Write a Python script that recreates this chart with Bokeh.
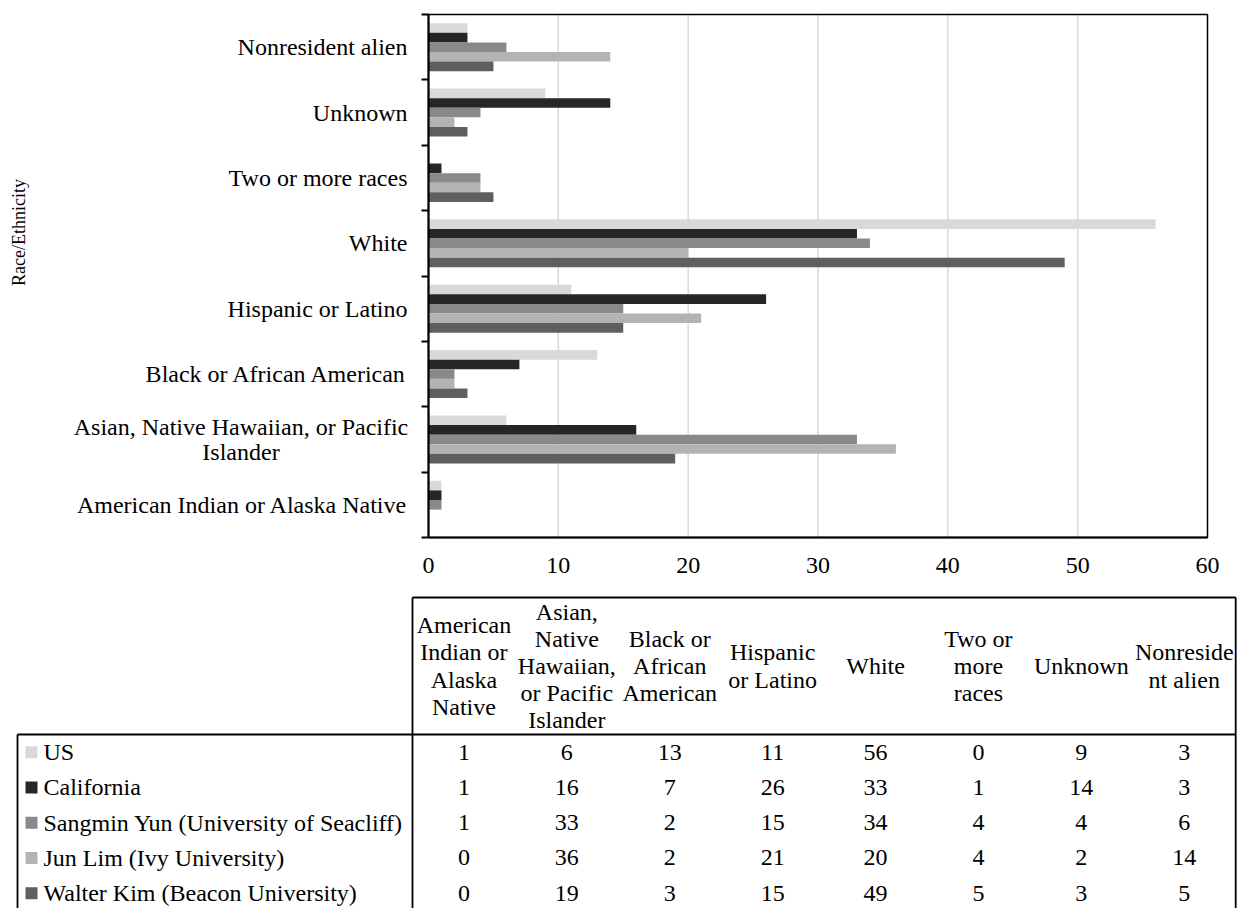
import numpy as np
from bokeh.plotting import figure
from bokeh.models import Range1d, FixedTicker, ColumnDataSource
from bokeh.core.properties import value
from bokeh.embed import file_html
from bokeh.resources import INLINE

# ---- data -------------------------------------------------------------
categories = [
    "American Indian or Alaska Native",
    "Asian, Native Hawaiian, or Pacific Islander",
    "Black or African American",
    "Hispanic or Latino",
    "White",
    "Two or more races",
    "Unknown",
    "Nonresident alien",
]
# category labels as wrapped beside the bars
axis_labels = [
    "American Indian or Alaska Native",
    "Asian, Native Hawaiian, or Pacific\nIslander",
    "Black or African American",
    "Hispanic or Latino",
    "White",
    "Two or more races",
    "Unknown",
    "Nonresident alien",
]
# category labels as wrapped in the data table header
table_headers = [
    "American\nIndian or\nAlaska\nNative",
    "Asian,\nNative\nHawaiian,\nor Pacific\nIslander",
    "Black or\nAfrican\nAmerican",
    "Hispanic\nor Latino",
    "White",
    "Two or\nmore\nraces",
    "Unknown",
    "Nonreside\nnt alien",
]
series_names = [
    "US",
    "California",
    "Sangmin Yun (University of Seacliff)",
    "Jun Lim (Ivy University)",
    "Walter Kim (Beacon University)",
]
series_colors = ["#d9d9d9", "#262626", "#898989", "#b3b3b3", "#5f5f5f"]

us = [1, 6, 13, 11, 56, 0, 9, 3]
california = [1, 16, 7, 26, 33, 1, 14, 3]
sangmin_yun = [1, 33, 2, 15, 34, 4, 4, 6]
jun_lim = [0, 36, 2, 21, 20, 4, 2, 14]
walter_kim = [0, 19, 3, 15, 49, 5, 3, 5]
series_values = [us, california, sangmin_yun, jun_lim, walter_kim]

x_ticks = [0, 10, 20, 30, 40, 50, 60]
y_title = "Race/Ethnicity"

FONT = "Liberation Serif"
LABEL_SIZE = "24px"

# ---- page geometry (px) ----------------------------------------------
W, H = 1238, 908
PLOT_L, PLOT_R, PLOT_T, PLOT_B = 428, 1207, 14, 537
X_MAX = 60

n_cat = len(categories)
n_ser = len(series_names)

px_x = (PLOT_R - PLOT_L) / X_MAX
px_c = (PLOT_B - PLOT_T) / n_cat

# one canvas-wide frame; the chart area sits inside it
p = figure(
    width=W, height=H, title=None,
    x_range=Range1d(-PLOT_L / px_x, X_MAX + (W - PLOT_R) / px_x),
    y_range=Range1d(-0.5 - (H - PLOT_B) / px_c, n_cat - 0.5 + PLOT_T / px_c),
    output_backend="svg", toolbar_location=None, min_border=0,
)
p.background_fill_color = "white"
p.border_fill_color = "white"
p.outline_line_color = None
p.grid.visible = False

# vertical gridlines
grid_x = x_ticks[1:-1]
p.segment(x0=grid_x, x1=grid_x, y0=[-0.5] * len(grid_x), y1=[n_cat - 0.5] * len(grid_x),
          line_color="#d9d9d9", line_width=1.5)

# bars: US on top of each group, Walter Kim at the bottom
bar_h = 0.147
cat_idx = np.arange(n_cat)
for k, (name, vals, color) in enumerate(zip(series_names, series_values, series_colors)):
    offset = (n_ser - 1) / 2 * bar_h - k * bar_h
    src = ColumnDataSource(dict(y=cat_idx + offset, right=vals))
    p.hbar(y="y", left=0, right="right", height=bar_h, source=src,
           fill_color=color, line_color=None)

# plot-area border
p.quad(left=[0], right=[X_MAX], bottom=[-0.5], top=[n_cat - 0.5],
       fill_color=None, line_color="black", line_width=1.5)

# value axis along the bottom of the chart area
xa = p.xaxis[0]
xa.fixed_location = -0.5
xa.bounds = (0, X_MAX)
xa.ticker = FixedTicker(ticks=x_ticks)
xa.axis_line_color = "black"
xa.axis_line_width = 2
xa.major_tick_out = 0
xa.major_tick_in = 0
xa.minor_tick_line_color = None
xa.major_label_text_font = FONT
xa.major_label_text_font_size = LABEL_SIZE
xa.major_label_text_color = "black"
xa.major_label_standoff = 20

# category axis: only (minor) ticks at the group boundaries
boundaries = [i - 0.5 for i in range(n_cat + 1)]
ya = p.yaxis[0]
ya.fixed_location = 0
ya.bounds = (-0.5, n_cat - 0.5)
ya.ticker = FixedTicker(ticks=[], minor_ticks=boundaries)
ya.axis_line_color = "black"
ya.axis_line_width = 2
ya.major_tick_line_color = None
ya.minor_tick_line_color = "black"
ya.minor_tick_line_width = 2
ya.minor_tick_out = 7
ya.minor_tick_in = 0

# category labels at group centres (the wrapped one is centred on its block)
label_align = ["center" if "\n" in s else "right" for s in axis_labels]
label_xoff = [-187.5 if "\n" in s else -21 for s in axis_labels]
p.text(x=[0] * n_cat, y=list(cat_idx), text=axis_labels,
       x_offset=label_xoff, text_align=label_align, text_baseline="middle",
       text_line_height=0.98,
       text_font=value(FONT), text_font_size=LABEL_SIZE, text_color="black")

p.text(x=[0], y=[4.165], text=[y_title], x_offset=-410, angle=np.pi / 2,
       text_align="center", text_baseline="middle",
       text_font=value(FONT), text_font_size="18px", text_color="black")

# ---- data table below the chart --------------------------------------
COL_W = 102.9     # column width
ROW_H = 35.25     # data row height
HEADER_H = 137.0  # header row height
TABLE_LEFT = 412  # left edge of the first value column
LEGEND_LEFT = 17
DIVIDER_Y = 734   # header / body divider

tx0 = -0.5 - TABLE_LEFT / COL_W
ty_top = -0.5 - DIVIDER_Y / ROW_H
p.extra_x_ranges["table_x"] = Range1d(tx0, tx0 + W / COL_W)
p.extra_y_ranges["table_y"] = Range1d(ty_top + H / ROW_H, ty_top)
tbl = dict(x_range_name="table_x", y_range_name="table_y")

header_y = -0.5 - HEADER_H / ROW_H / 2
header_top = -0.5 - HEADER_H / ROW_H
legend_left = -0.5 - (TABLE_LEFT - LEGEND_LEFT) / COL_W
swatch_x = -0.5 - (TABLE_LEFT - 31) / COL_W
name_x = -0.5 - (TABLE_LEFT - 43) / COL_W
right = n_cat - 0.5
bottom = n_ser - 0.5

p.multi_line(
    xs=[[-0.5, right], [legend_left, right], [legend_left, right],
        [-0.5, -0.5], [right, right], [legend_left, legend_left]],
    ys=[[header_top, header_top], [-0.5, -0.5], [bottom, bottom],
        [header_top, bottom], [header_top, bottom], [-0.5, bottom]],
    line_color="black", line_width=1.8, **tbl,
)

p.text(x=list(range(n_cat)), y=[header_y] * n_cat, text=table_headers,
       text_align="center", text_baseline="middle", text_line_height=1.04,
       text_font=value(FONT), text_font_size=LABEL_SIZE, text_color="black", **tbl)

cell_x, cell_y, cell_txt = [], [], []
for r, vals in enumerate(series_values):
    for c, v in enumerate(vals):
        cell_x.append(c)
        cell_y.append(r)
        cell_txt.append(str(v))
p.text(x=cell_x, y=cell_y, text=cell_txt,
       text_align="center", text_baseline="middle",
       text_font=value(FONT), text_font_size=LABEL_SIZE, text_color="black", **tbl)

rows = list(range(n_ser))
p.scatter(x=[swatch_x] * n_ser, y=rows, marker="square", size=12,
          fill_color=series_colors, line_color=None, **tbl)
p.text(x=[name_x] * n_ser, y=rows, text=series_names,
       text_align="left", text_baseline="middle",
       text_font=value(FONT), text_font_size=LABEL_SIZE, text_color="black", **tbl)

open("out.html", "w").write(file_html(p, INLINE))
